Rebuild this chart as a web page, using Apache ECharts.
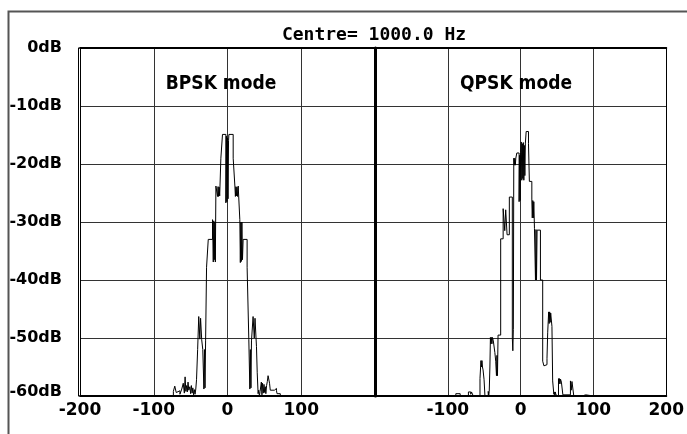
<!DOCTYPE html>
<html lang="en">
<head>
  <meta charset="UTF-8">
  <title>Spectrum</title>
  <script src="https://cdn.jsdelivr.net/npm/echarts@6/dist/echarts.min.js"></script>
  <style>
    html, body { margin: 0; padding: 0; background: #fff; }
    #spectrum { width: 687px; height: 434px; }
  </style>
</head>
<body>
<div id="spectrum"></div>
<script>
  // tick labels
  var leftTicks = [-200, -100, 0, 100];
  var rightTicks = [-100, 0, 100, 200];

  // BPSK spectrum: each level holds from its Hz to the next Hz
  var bpskHz = [-200, -88, -86, -73.4, -71.5, -69.5, -67, -64.5, -62, -60, -58.5, -57.5, -56.5, -55.4,
    -54.5, -53.5, -52.5, -51, -50, -49, -48, -47, -46, -45, -44, -43, -42, -40.5, -39, -37.5, -36.5,
    -35, -33.5, -32, -31.2, -30.5, -29.7, -28.4, -26.1, -20.3, -19.3, -18.6, -17.9, -17.2, -16.5,
    -15.7, -13.5, -12.8, -12.1, -11.3, -10.6, -9, -6.8, -2.2, -1.5, -0.8, 0, 0.7, 1.4, 1.9, 7.7, 10,
    10.7, 11.4, 12.1, 12.8, 13.6, 14.5, 16.7, 17.4, 18.1, 18.8, 19.5, 20.3, 21.2, 26.6, 28.9, 30.3,
    31, 31.8, 32.5, 34.7, 36.3, 37.3, 39.3, 40.3, 41.5, 42.3, 43.3, 44.2, 45.9, 46.7, 47.5, 48.5,
    49.5, 50.4, 51.2, 52, 53, 54, 55, 57, 58, 63.6, 66.4, 67.2, 71.6, 86.5, 88.8, 200];
  var bpskDb = [-60, -59.7, -60, -59.2, -58.3, -59.4, -59.1, -59.7, -58.8, -57.8, -59.5, -56.7, -59.2, -58.2,
    -59.3, -57.6, -59, -58.4, -59.6, -58.2, -59.5, -58.6, -59.8, -58.9, -59.7, -58.8, -57.2, -52, -46.3, -50.2, -46.6,
    -50.3, -52, -58.8, -52, -58.6, -50.5, -37.8, -33, -29.6, -36.9, -29.8, -36.5, -30, -36.9,
    -23.8, -25.6, -23.9, -25.6, -24, -25.5, -19, -14.9, -26.7, -15.2, -26.5, -15.5, -26, -16, -14.9, -19, -23.8,
    -25.6, -23.9, -25.5, -24, -25.6, -23.8, -29.6, -37, -30, -36.8, -30, -36.5, -33, -37.8, -50.3, -58.8,
    -52, -58.6, -50.5, -46.3, -50, -46.6, -51.5, -56, -59.6, -59, -60, -59.2, -57.6, -59.8, -57.8, -59.5,
    -58, -59.4, -58.4, -59.6, -58.2, -57.5, -56.5, -57.8, -59, -58.7, -59.1, -59.6, -60, -59.7, -60, -60];

  // QPSK spectrum
  var qpskHz = [-200, -89, -83, -71.7, -68.5, -67.5, -65, -55.8, -54.5, -53.8, -53.1, -52.4, -51.6, -50.2,
    -49, -44.5, -43.8, -43.1, -42.2, -41.5, -40.8, -40.1, -39.4, -38.7, -37.5, -35.4, -34.2, -33.2,
    -32.5, -31.8, -31, -27.4, -24, -21.8, -20.5, -18.6, -15.5, -11.4, -10.7, -10, -9.4, -8.7, -8,
    -7.3, -6.6, -5.2, -2.1, -1.4, -0.7, 0, 0.9, 1.6, 2.3, 3, 3.7, 4.4, 5.1, 5.8, 6.5, 7.6, 10.8, 12,
    15.4, 16, 16.7, 17.4, 18.1, 19, 20.4, 21.1, 21.8, 22.6, 27.2, 30.3, 32, 34, 36.2, 37.2, 38.5,
    39.2, 39.9, 40.6, 41.3, 43, 44, 45.6, 46.3, 47, 47.7, 48.4, 50.7, 52, 52.7, 53.4, 54.1, 54.8, 56,
    58, 68.4, 69.5, 70.5, 73, 84.5, 89.3, 100, 101.5, 200];
  var qpskDb = [-60, -59.6, -60, -59.3, -59.7, -59.3, -60, -57, -53.9, -55, -53.9, -55, -55.5, -57.2,
    -60, -59.2, -59.9, -59.2, -55, -49.9, -51, -49.9, -51, -49.9, -50.5, -52.5, -54, -56.5,
    -53, -56.5, -49.5, -32.9, -27.7, -31.5, -27.9, -32.2, -25.7, -50, -52.2, -48.5, -19, -20.2, -19,
    -20.2, -19, -18.1, -26.5, -18.5, -26.3, -18, -16.2, -22.8, -16.5, -22.5, -16.3, -22.8, -16.8, -22, -16.4, -14.4, -16.5, -23,
    -26.2, -29.3, -26.3, -29.3, -26.5, -31.1, -40, -31.3, -40, -31.4, -40, -54, -54.8, -54.6, -53.5, -49, -45.5,
    -47.5, -45.5, -47.3, -45.7, -48, -57.4, -59.7, -59.3, -59.9, -59.3, -59.8, -60, -57, -57.9, -57, -57.9, -57.1, -57.6,
    -59.8, -57.4, -59, -57.5, -60, -59.8, -60, -59.8, -60, -60];

  function pairs(hz, db) {
    var out = [];
    for (var i = 0; i < hz.length; i++) {
      out.push([hz[i], db[i]]);
    }
    return out;
  }

  var myChart = echarts.init(document.getElementById('spectrum'));

  var labelFont = {
    color: '#000',
    fontFamily: 'DejaVu Sans',
    fontWeight: 'bold'
  };

  function freqAxis(grid, ticks) {
    return {
      type: 'value',
      gridIndex: grid,
      position: 'bottom',
      min: -200,
      max: 200,
      interval: 100,
      axisLine: {show: true, onZero: false, lineStyle: {color: '#000', width: 2}},
      axisTick: {show: false},
      axisLabel: Object.assign({
        margin: 6,
        fontSize: 17,
        formatter: function (v) {
          return ticks.indexOf(v) >= 0 ? String(v) : '';
        }
      }, labelFont),
      splitLine: {show: true, lineStyle: {color: '#333', width: 1}}
    };
  }

  function topAxis(grid) {
    return {
      type: 'value',
      gridIndex: grid,
      position: 'top',
      min: -200,
      max: 200,
      axisLine: {show: true, onZero: false, lineStyle: {color: '#000', width: 2}},
      axisTick: {show: false},
      axisLabel: {show: false},
      splitLine: {show: false}
    };
  }

  function levelAxis(grid, pos, width, offset, labels) {
    return {
      type: 'value',
      gridIndex: grid,
      position: pos,
      offset: offset,
      min: -60,
      max: 0,
      interval: 10,
      axisLine: {show: true, onZero: false, lineStyle: {color: '#000', width: width}},
      axisTick: {show: false},
      axisLabel: Object.assign({
        show: labels,
        margin: 18,
        fontSize: 16,
        formatter: function (v) {
          // the bottom label sits a little above its line
          return v === -60 ? '{lo|' + v + 'dB}' : v + 'dB';
        },
        rich: {
          lo: Object.assign({fontSize: 16, padding: [0, 0, 9, 0]}, labelFont)
        }
      }, labelFont),
      splitLine: {show: true, lineStyle: {color: '#333', width: 1}}
    };
  }

  var modeFont = {
    fontFamily: "'DejaVu Sans Condensed', 'Liberation Sans', sans-serif",
    fontWeight: 'bold',
    fontSize: 19,
    color: '#000'
  };

  var option = {
    animation: false,
    backgroundColor: '#fff',
    title: [
      {
        text: 'Centre= 1000.0 Hz',
        left: 374, top: 26, textAlign: 'center', padding: 0,
        textStyle: {fontFamily: 'DejaVu Sans Mono', fontWeight: 'bold', fontSize: 18, color: '#000'}
      },
      {
        text: 'BPSK mode',
        left: 221, top: 75, textAlign: 'center', padding: 0,
        textStyle: modeFont
      },
      {
        text: 'QPSK mode',
        left: 516, top: 75, textAlign: 'center', padding: 0,
        textStyle: modeFont
      }
    ],
    graphic: [
      {
        type: 'rect',
        left: 6, top: 9,
        shape: {width: 700, height: 440},
        style: {fill: 'none', stroke: '#555', lineWidth: 2},
        silent: true
      }
    ],
    grid: [
      {left: 80, top: 48, width: 295, height: 348},
      {left: 375, top: 48, width: 295, height: 348}
    ],
    xAxis: [
      freqAxis(0, leftTicks),
      freqAxis(1, rightTicks),
      topAxis(0),
      topAxis(1)
    ],
    yAxis: [
      levelAxis(0, 'left', 1, 0, true),
      levelAxis(0, 'left', 1, 2, false),
      levelAxis(1, 'left', 3, 0, false),
      levelAxis(1, 'right', 1, 0, false)
    ],
    series: [
      {
        name: 'BPSK',
        type: 'line',
        xAxisIndex: 0,
        yAxisIndex: 0,
        step: 'end',
        symbol: 'none',
        lineStyle: {color: '#000', width: 1},
        data: pairs(bpskHz, bpskDb)
      },
      {
        name: 'QPSK',
        type: 'line',
        xAxisIndex: 1,
        yAxisIndex: 2,
        step: 'end',
        symbol: 'none',
        lineStyle: {color: '#000', width: 1},
        data: pairs(qpskHz, qpskDb)
      }
    ]
  };

  option && myChart.setOption(option);
</script>
</body>
</html>
